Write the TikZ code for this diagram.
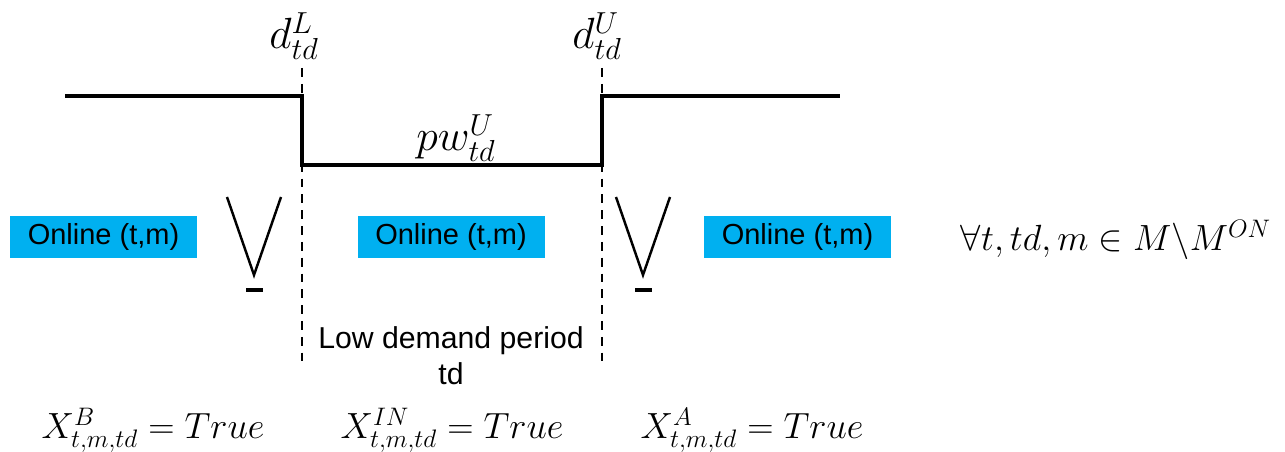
\documentclass[tikz,border=0pt]{standalone}
\usepackage{fontspec}
\setmainfont{Liberation Sans}
\definecolor{boxblue}{HTML}{00B0F0}
\begin{document}
\begin{tikzpicture}[x=0.02cm,y=-0.02cm,
  wave/.style={line width=1.8pt},
  guide/.style={line width=0.6pt,dash pattern=on 5pt off 4pt},
  onbox/.style={fill=boxblue,minimum width=187*0.02cm,minimum height=42*0.02cm,inner sep=0pt,font=\fontsize{16.5}{19}\selectfont},
  orsym/.style={line width=1.4pt},
  mathlbl/.style={inner sep=0pt,font=\fontsize{22}{26}\selectfont},
  toplbl/.style={inner sep=0pt,font=\fontsize{25}{29}\selectfont},
  plain/.style={inner sep=0pt,font=\fontsize{17.2}{20.5}\selectfont,align=center}]
\useasboundingbox (0,0) rectangle (1285,452);
% waveform
\coordinate (w0) at (65,96);
\coordinate (w1) at (302,96);
\coordinate (w2) at (302,165);
\coordinate (w3) at (602,165);
\coordinate (w4) at (602,96);
\coordinate (w5) at (840,96);
\draw[wave] (w0) -- (w1) -- (w2) -- (w3) -- (w4) -- (w5);
% guides
\coordinate (gLt) at (302,68); \coordinate (gLb) at (302,365);
\coordinate (gUt) at (602,68); \coordinate (gUb) at (602,365);
\draw[guide] (gLt) -- (gLb);
\draw[guide] (gUt) -- (gUb);
% labels
\node[toplbl] (dL) at (294,36) {$d_{td}^{L}$};
\node[toplbl] (dU) at (597,36) {$d_{td}^{U}$};
\node[toplbl] (pw) at (456,138) {$pw_{td}^{U}$};
% boxes
\node[onbox] (b1) at (103.5,237) {Online (t,m)};
\node[onbox] (b2) at (451,237) {Online (t,m)};
\node[onbox] (b3) at (797.5,237) {Online (t,m)};
% or symbols
\coordinate (v1a) at (227,197); \coordinate (v1b) at (254,275); \coordinate (v1c) at (281,197);
\draw[orsym,line join=miter] (v1a) -- (v1b) -- (v1c);
\coordinate (d1a) at (246,290); \coordinate (d1b) at (263,290);
\draw[line width=1.8pt] (d1a) -- (d1b);
\coordinate (v2a) at (616,197); \coordinate (v2b) at (643,275); \coordinate (v2c) at (670,197);
\draw[orsym,line join=miter] (v2a) -- (v2b) -- (v2c);
\coordinate (d2a) at (635,290); \coordinate (d2b) at (652,290);
\draw[line width=1.8pt] (d2a) -- (d2b);
% forall
\node[mathlbl] (fa) at (1116,240) {$\forall t, td, m \in M\backslash M^{ON}$};
% low demand
\node[plain] (ld) at (451,356) {Low demand period\\td};
% bottom
\node[mathlbl] (xb) at (153,430) {$X_{t,m,td}^{B} = True$};
\node[mathlbl] (xin) at (452,430) {$X_{t,m,td}^{IN} = True$};
\node[mathlbl] (xa) at (752,430) {$X_{t,m,td}^{A} = True$};
\end{tikzpicture}
\end{document}
